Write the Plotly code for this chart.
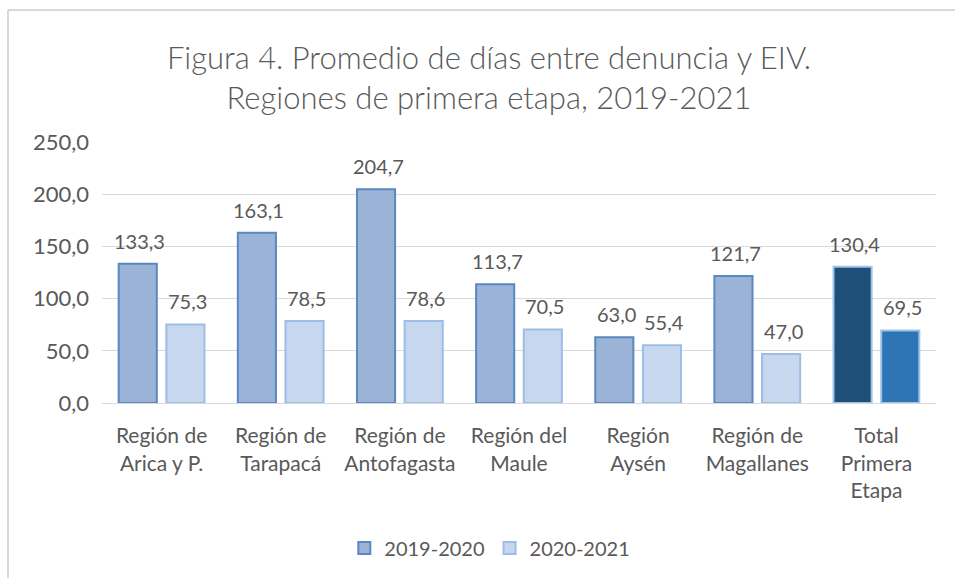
import plotly.graph_objects as go

categories = ["Región de<br>Arica y P.", "Región de<br>Tarapacá", "Región de<br>Antofagasta",
              "Región del<br>Maule", "Región<br>Aysén", "Región de<br>Magallanes",
              "Total<br>Primera<br>Etapa"]
s2019 = [133.3, 163.1, 204.7, 113.7, 63.0, 121.7, 130.4]
s2020 = [75.3, 78.5, 78.6, 70.5, 55.4, 47.0, 69.5]
series_names = ["2019-2020", "2020-2021"]
y_ticks = [0, 50, 100, 150, 200, 250]

c1 = ["#9bb3d7"] * 6 + ["#1f4e79"]
c1_line = ["#5a88c0"] * 6 + ["#9dc3e6"]
c2 = ["#c6d7ee"] * 6 + ["#2e75b6"]
c2_line = ["#9dbde6"] * 6 + ["#9dc3e6"]

W, H = 957, 578
L, R, T, B = 102, 21, 142, 175
BARGAP, GROUPGAP = 0.2, 0.2
FONT = "Lato"
GRAY = "#595959"

fig = go.Figure()
fig.add_bar(x=categories, y=s2019, name=series_names[0],
            marker=dict(color=c1, line=dict(color=c1_line, width=2)))
fig.add_bar(x=categories, y=s2020, name=series_names[1],
            marker=dict(color=c2, line=dict(color=c2_line, width=2)))

def fmt(v):
    return f"{v:.1f}".replace(".", ",")

plot_w = W - L - R
plot_h = H - T - B
slot = plot_w / len(categories) * (1 - BARGAP) / 2
for vals, sign in ((s2019, -1), (s2020, 1)):
    for cat, v in zip(categories, vals):
        fig.add_annotation(x=cat, y=v, xref="x", yref="y", text=fmt(v),
                           showarrow=False, yanchor="bottom", xshift=sign * slot / 2 + 2,
                           yshift=9, font=dict(family=FONT, size=20, color=GRAY))

# chart frame (outer border)
top_y = (H - B - 10) / plot_h
fig.add_shape(type="line", xref="paper", yref="paper",
              x0=(8 - L) / plot_w, x1=(955 - L) / plot_w, y0=top_y, y1=top_y,
              line=dict(color="#d9d9d9", width=2))
fig.add_shape(type="line", xref="paper", yref="paper",
              x0=(8 - L) / plot_w, x1=(8 - L) / plot_w,
              y0=top_y, y1=(H - B - 600) / plot_h,
              line=dict(color="#d9d9d9", width=2))

fig.update_layout(
    width=W, height=H,
    margin=dict(l=L, r=R, t=T, b=B, autoexpand=False),
    paper_bgcolor="white", plot_bgcolor="white",
    barmode="group", bargap=BARGAP, bargroupgap=GROUPGAP,
    title=dict(text="Figura 4. Promedio de días entre denuncia y EIV.<br>Regiones de primera etapa, 2019-2021",
               x=489 / W, xref="container", xanchor="center", y=1 - 69 / H, yref="container",
               yanchor="middle",
               font=dict(family=FONT, size=31, color=GRAY, weight=300)),
    font=dict(family=FONT, size=21, color=GRAY),
    separators=",.",
    showlegend=True,
    legend=dict(orientation="h", x=0.465, xanchor="center", y=-0.556, yanchor="middle",
                font=dict(family=FONT, size=20, color=GRAY), traceorder="normal"),
    xaxis=dict(showgrid=False, showline=True, linecolor="#d9d9d9", linewidth=1,
               tickfont=dict(family=FONT, size=21, color=GRAY), ticks="",
               ticklabelstandoff=14),
    yaxis=dict(range=[0, 250], tickvals=y_ticks, tickformat=".1f",
               showgrid=True, gridcolor="#d9d9d9", gridwidth=1, zeroline=False,
               showline=False, ticks="", ticklabelstandoff=12,
               tickfont=dict(family=FONT, size=22, color=GRAY)),
)

fig.write_html("out.html", config={"displayModeBar": False},
               post_script="document.body.style.margin='0';")
